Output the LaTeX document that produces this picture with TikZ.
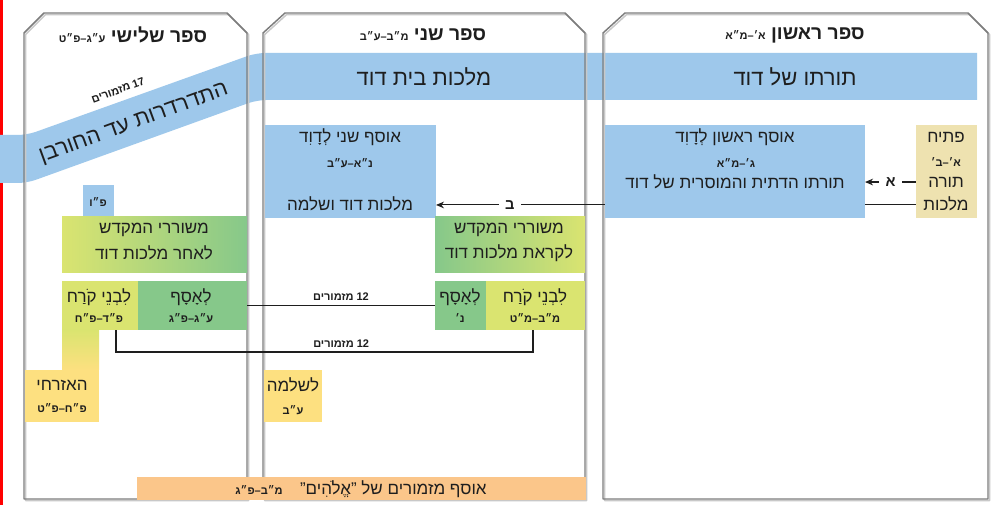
\documentclass[tikz,border=0pt]{standalone}
\usepackage{fontspec}
\setmainfont[Script=Hebrew]{Liberation Sans}
\usetikzlibrary{arrows.meta,calc}
\TeXXeTstate=1
\newcommand\heb[1]{\beginR #1\endR}
\newcommand\szBand{\fontsize{16.5}{18}\selectfont}
\newcommand\szTitle{\fontsize{14.5}{16}\selectfont\bfseries}
\newcommand\szBox{\fontsize{12.75}{14}\selectfont}
\newcommand\szRng{\fontsize{8.25}{9}\selectfont\bfseries}
\newcommand\szSlant{\fontsize{16.5}{18}\selectfont}
\newcommand\szLbl{\fontsize{11}{12}\selectfont\bfseries}
\definecolor{cblue}{RGB}{158,200,235}
\definecolor{cbeige}{RGB}{238,226,176}
\definecolor{cgreen}{RGB}{134,200,138}
\definecolor{cyg}{RGB}{218,228,112}
\definecolor{cyel}{RGB}{253,224,128}
\definecolor{corange}{RGB}{251,198,138}
\definecolor{cpanel}{RGB}{125,125,125}
\definecolor{cshadow}{RGB}{200,200,200}
\definecolor{ctext}{RGB}{30,30,30}
\pgfdeclarelayer{back}
\pgfdeclarelayer{mid}
\pgfsetlayers{back,mid,main}
\begin{document}
\begin{tikzpicture}[x=0.75pt,y=-0.75pt,
  box/.style={inner sep=0pt, outer sep=0pt, anchor=north west, draw=none},
  sz/.style 2 args={minimum width=#1*0.75pt, minimum height=#2*0.75pt},
  txt/.style={inner sep=0pt, text=ctext},
  panel/.style={draw=cpanel, line width=1.1pt, line join=round},
  pshadow/.style={draw=cshadow, line width=1.1pt, line join=round, xshift=1.2pt, yshift=-1.2pt},
  conn/.style={draw=ctext, line width=0.8pt},
  arr/.style={conn, -{Stealth[length=6pt,width=5pt]}},
  lbl/.style={fill=white, inner xsep=5pt, inner ysep=1pt, text=ctext, font=\szLbl},
  cnt/.style={inner sep=0pt, text=ctext, font=\szRng}
]
\useasboundingbox (0,0) rectangle (1000,505);

% ---------------- boxes ----------------
% right panel
\node[box, sz={260}{93}, fill=cblue] (B1) at (605,125) {};
\node[box, sz={61}{93}, fill=cbeige] (P) at (916,125) {};
% middle panel
\node[box, sz={171}{93}, fill=cblue] (B2) at (265,125) {};
\node[box, sz={150}{56}, left color=cgreen, right color=cyg] (M2) at (435,217) {};
\node[box, sz={51}{49}, fill=cgreen] (A2) at (435,281) {};
\node[box, sz={99}{49}, fill=cyg] (K2) at (486,281) {};
\node[box, sz={58}{52}, fill=cyel] (S) at (264,370) {};
% left panel
\node[box, sz={31}{32}, fill=cblue] (F) at (83,185) {};
\node[box, sz={185}{56}, left color=cyg, right color=cgreen] (M3) at (62,217) {};
\node[box, sz={76}{49}, fill=cyg] (K3) at (62,281) {};
\node[box, sz={109}{49}, fill=cgreen] (A3) at (138,281) {};
\node[box, sz={37}{40}, top color=cyg, bottom color=cyel] (KZ) at (62,330) {};
\node[box, sz={74}{52}, fill=cyel] (Z) at (25,370) {};
% bottom band
\node[box, sz={449}{23}, fill=corange] (O) at (137,477) {};

% ---------------- background: band and panels ----------------
\begin{pgfonlayer}{back}
\fill[white] (0,0) rectangle (1000,505);
\fill[red] (0,0) rectangle (3,505);
\fill[cblue] (0,183) -- (0,135) [rounded corners=7pt] -- (27,135) -- (256,53) [sharp corners] -- (977,53) -- (977,100) [rounded corners=7pt] -- (257,100) -- (27,183) [sharp corners] -- cycle;
\end{pgfonlayer}
\begin{pgfonlayer}{mid}
\draw[pshadow] (24,499) -- (24,33) -- (44,13) -- (227,13) -- (247,33) -- (247,499) -- cycle;
\draw[pshadow] (263,499) -- (263,33) -- (285,13) -- (565,13) -- (585,33) -- (585,499) -- cycle;
\draw[pshadow] (603,499) -- (603,33) -- (625,13) -- (968,13) -- (988,33) -- (988,499) -- cycle;
\draw[panel] (24,499) -- (24,33) -- (44,13) -- (227,13) -- (247,33) -- (247,499) -- cycle;
\draw[panel] (263,499) -- (263,33) -- (285,13) -- (565,13) -- (585,33) -- (585,499) -- cycle;
\draw[panel] (603,499) -- (603,33) -- (625,13) -- (968,13) -- (988,33) -- (988,499) -- cycle;
% connectors
\draw[arr] ([yshift=-7.9pt]P.west) -- node[lbl] (la) {\heb{א}} ([yshift=-7.9pt]B1.east);
\draw[arr] ([yshift=-25.1pt]P.west) -- node[lbl, pos=0.846] (lb) {\heb{ב}} ([yshift=-25.1pt]B2.east);
\draw[conn] (A2.west) -- node[cnt, above=3pt] (l12a) {\heb{12 מזמורים}} (A3.east);
\draw[conn] ([xshift=-1.9pt]K2.south) -- ++(0,22) -| node[cnt, pos=0.23, above=3pt] (l12b) {\heb{12 מזמורים}} ([xshift=12pt]K3.south);
\end{pgfonlayer}

% ---------------- titles ----------------
\node[txt] (T1) at (795,35) {\heb{\szTitle ספר ראשון {\szRng א׳–מ״א}}};
\node[txt] (T2) at (423,35) {\heb{\szTitle ספר שני {\szRng מ״ב–ע״ב}}};
\node[txt] (T3) at (133,35) {\heb{\szTitle ספר שלישי {\szRng ע״ג–פ״ט}}};

% band texts
\node[txt] (BT1) at (795,77) {\heb{\szBand תורתו של דוד}};
\node[txt] (BT2) at (424,77) {\heb{\szBand מלכות בית דוד}};
\node[txt, rotate=20] (BT3) at (134,124) {\heb{\szSlant התדרדרות עד החורבן}};
\node[txt, rotate=20] (BT4) at (118,90) {\heb{\szRng 17 מזמורים}};

% right panel texts
\node[txt] (b1a) at (735,137) {\heb{\szBox אוסף ראשון לְדָוִד}};
\node[txt] (b1b) at (736,163) {\heb{\szRng ג׳–מ״א}};
\node[txt] (b1c) at (735,182) {\heb{\szBox תורתו הדתית והמוסרית של דוד}};
\node[txt] (pa) at (946,137) {\heb{\szBox פתיח}};
\node[txt] (pb) at (946,162) {\heb{\szRng א׳–ב׳}};
\node[txt] (pc) at (946,182) {\heb{\szBox תורה}};
\node[txt] (pd) at (946,204) {\heb{\szBox מלכות}};

% middle panel texts
\node[txt] (b2a) at (350,137) {\heb{\szBox אוסף שני לְדָוִד}};
\node[txt] (b2b) at (350,163) {\heb{\szRng נ״א–ע״ב}};
\node[txt] (b2c) at (350,204) {\heb{\szBox מלכות דוד ושלמה}};
\node[txt] (m2a) at (509,230) {\heb{\szBox משוררי המקדש}};
\node[txt] (m2b) at (509,253) {\heb{\szBox לקראת מלכות דוד}};
\node[txt] (a2a) at (460,297) {\heb{\szBox לְאָסָף}};
\node[txt] (a2b) at (460,318) {\heb{\szRng נ׳}};
\node[txt] (k2a) at (535,297) {\heb{\szBox לִבְנֵי קֹרַח}};
\node[txt] (k2b) at (535,318) {\heb{\szRng מ״ב–מ״ט}};
\node[txt] (sa) at (293,385) {\heb{\szBox לשלמה}};
\node[txt] (sb) at (293,410) {\heb{\szRng ע״ב}};

% left panel texts
\node[txt] (fa) at (98,202) {\heb{\szRng פ״ו}};
\node[txt] (m3a) at (154,230) {\heb{\szBox משוררי המקדש}};
\node[txt] (m3b) at (154,253) {\heb{\szBox לאחר מלכות דוד}};
\node[txt] (k3a) at (99,297) {\heb{\szBox לִבְנֵי קֹרַח}};
\node[txt] (k3b) at (99,318) {\heb{\szRng פ״ד–פ״ח}};
\node[txt] (a3a) at (191,297) {\heb{\szBox לְאָסָף}};
\node[txt] (a3b) at (191,318) {\heb{\szRng ע״ג–פ״ג}};
\node[txt] (za) at (62,385) {\heb{\szBox האזרחי}};
\node[txt] (zb) at (62,408) {\heb{\szRng פ״ח–פ״ט}};

% bottom band text
\node[txt] (ot) at (361,489) {\heb{\szBox אוסף מזמורים של "אֱלֹהִים"\hspace{13pt}{\szRng מ״ב–פ״ג}}};
\end{tikzpicture}
\end{document}
